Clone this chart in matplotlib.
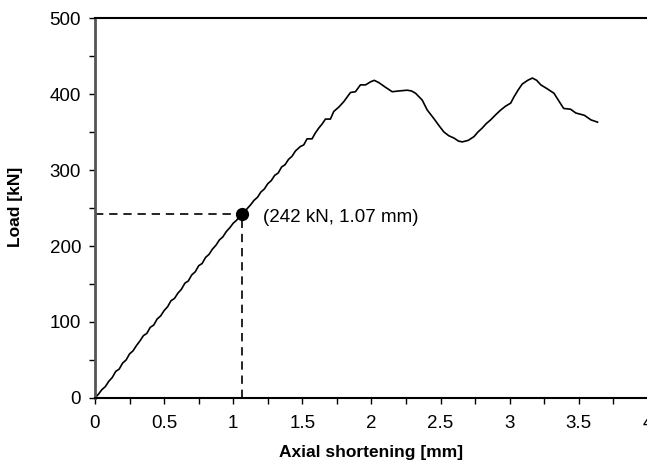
import matplotlib.pyplot as plt
import numpy as np

plt.rcParams['font.family'] = ['Liberation Sans', 'DejaVu Sans']

# axial shortening [mm] and load [kN]
shortening = [0.000, 0.025, 0.050, 0.075, 0.100, 0.125, 0.150, 0.175, 0.200, 0.225,
              0.250, 0.275, 0.300, 0.325, 0.350, 0.375, 0.400, 0.425, 0.450, 0.475,
              0.500, 0.525, 0.550, 0.575, 0.600, 0.625, 0.650, 0.675, 0.700, 0.725,
              0.750, 0.775, 0.800, 0.825, 0.850, 0.875, 0.900, 0.925, 0.950, 0.975,
              1.000, 1.025, 1.050, 1.075, 1.100, 1.125, 1.150, 1.175, 1.200, 1.225,
              1.250, 1.275, 1.300, 1.325, 1.350, 1.375, 1.400, 1.425, 1.450, 1.486,
              1.510, 1.534, 1.570, 1.595, 1.618, 1.645, 1.667, 1.703, 1.727, 1.765,
              1.800, 1.848, 1.884, 1.920, 1.957, 1.993, 2.020, 2.053, 2.100, 2.150,
              2.198, 2.258, 2.290, 2.319, 2.367, 2.403, 2.450, 2.490, 2.524, 2.560,
              2.597, 2.630, 2.657, 2.700, 2.742, 2.770, 2.800, 2.830, 2.862, 2.900,
              2.935, 2.970, 3.007, 3.030, 3.060, 3.090, 3.130, 3.164, 3.195, 3.225,
              3.270, 3.320, 3.355, 3.390, 3.440, 3.478, 3.540, 3.587, 3.635]
load = [0, 5, 11, 15, 22, 27, 35, 38, 46, 50,
        58, 62, 69, 75, 82, 85, 93, 96, 104, 108,
        115, 120, 128, 131, 138, 143, 151, 154, 162, 166,
        174, 177, 185, 189, 196, 201, 208, 212, 219, 224,
        230, 234, 240, 243, 249, 254, 260, 264, 271, 275,
        282, 286, 293, 296, 304, 307, 314, 318, 325, 331,
        333, 341, 341, 349, 355, 361, 367, 367, 377, 383,
        390, 402, 403, 412, 412, 416, 418, 415, 409, 403,
        404, 405, 404, 401, 392, 379, 368, 358, 350, 345,
        342, 338, 337, 339, 344, 350, 355, 361, 366, 373,
        379, 384, 388, 396, 405, 413, 418, 421, 418, 412,
        407, 401, 391, 381, 380, 375, 372, 366, 363]

point_x = 1.065
point_y = 242
point_label = "(242 kN, 1.07 mm)"

fig = plt.figure(figsize=(6.47, 4.63), dpi=100)
ax = fig.add_axes([0.1468, 0.1404, 0.8547, 0.8207])

ax.plot(shortening, load, color='black', linewidth=1.2)
ax.plot([0, point_x], [point_y, point_y], color='black', linewidth=1.2, linestyle=(0, (5, 3.5)))
ax.plot([point_x, point_x], [0, point_y], color='black', linewidth=1.2, linestyle=(0, (5, 3.5)))
ax.plot(point_x, point_y, 'o', color='black', markersize=8.5)
ax.text(1.215, 237, point_label, fontsize=13.5, va='center', ha='left')

ax.set_xlim(0, 4)
ax.set_ylim(0, 500)
ax.set_xticks(np.arange(0, 4.01, 0.5))
ax.set_xticklabels(['0', '0.5', '1', '1.5', '2', '2.5', '3', '3.5', '4'])
ax.set_yticks(np.arange(0, 501, 100))
ax.set_xticks(np.arange(0, 4.01, 0.25), minor=True)
ax.set_yticks(np.arange(0, 501, 50), minor=True)
ax.tick_params(which='both', direction='out', length=4, width=1, labelsize=13.5)
ax.tick_params(axis='x', pad=8)
ax.tick_params(axis='y', pad=6)

ax.spines['right'].set_visible(False)
ax.spines['left'].set_color('#555555')
ax.spines['left'].set_linewidth(2)
ax.spines['bottom'].set_linewidth(1.5)
ax.spines['top'].set_linewidth(1.5)

ax.set_xlabel('Axial shortening [mm]', fontsize=12.5, fontweight='bold')
ax.set_ylabel('Load [kN]', fontsize=12.5, fontweight='bold')
ax.xaxis.set_label_coords(0.5, -0.124)
ax.yaxis.set_label_coords(-0.13, 0.503)

fig.savefig('out.png', dpi=100)
